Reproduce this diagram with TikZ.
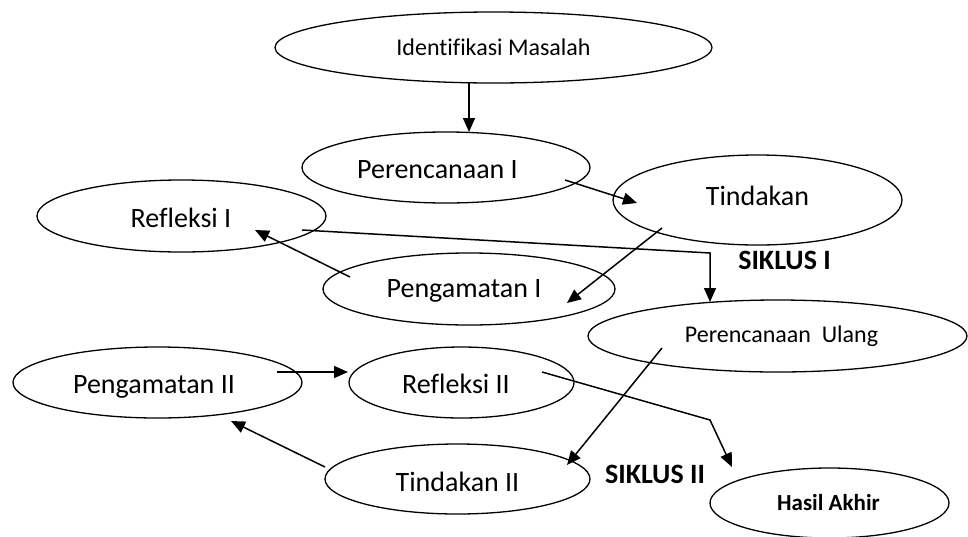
\documentclass[tikz,border=0pt]{standalone}
\usepackage{fontspec}
\setmainfont{Carlito}[Ligatures=NoCommon]
\usetikzlibrary{shapes.geometric,arrows.meta,calc}
\tikzset{
  oval/.style={draw, ellipse, line width=1.3pt, fill=white, inner sep=0pt},
  txt/.style={anchor=base, inner sep=0pt, font=\fontsize{28}{30}\selectfont},
  mid/.style={anchor=base, inner sep=0pt, font=\fontsize{24}{26}\selectfont},
  arr/.style={line width=1.5pt, -{Triangle[length=14pt,width=12pt]}},
  lbl/.style={anchor=base, inner sep=0pt, font=\bfseries\fontsize{28}{30}\selectfont},
}
\begin{document}
\begin{tikzpicture}[x=1pt,y=-1pt]
\useasboundingbox (0,0) rectangle (968,536);
% ellipses
\node[oval, minimum width=437pt, minimum height=71pt] (im) at (493.5,47.5) {};
\node[oval, minimum width=288pt, minimum height=71pt] (p1) at (446,167.5) {};
\node[oval, minimum width=289pt, minimum height=90pt] (t1) at (757.5,200) {};
\node[oval, minimum width=289pt, minimum height=72pt] (r1) at (181.5,216) {};
\node[oval, minimum width=292pt, minimum height=72pt] (g1) at (469,289) {};
\node[oval, minimum width=379pt, minimum height=72pt] (pu) at (777.5,336) {};
\node[oval, minimum width=289pt, minimum height=71pt] (g2) at (157.5,382.5) {};
\node[oval, minimum width=225pt, minimum height=71pt] (r2) at (461.5,382.5) {};
\node[oval, minimum width=265pt, minimum height=70pt] (t2) at (457.5,479) {};
\node[oval, minimum width=239pt, minimum height=70pt] (ha) at (829.5,503) {};
% texts
\node[mid] (imt) at (493.5,55) {Identifikasi Masalah};
\node[txt] (p1t) at (437.5,178) {Perencanaan I};
\node[txt] (t1t) at (757.5,205) {Tindakan};
\node[txt] (r1t) at (181,227) {Refleksi I};
\node[txt] (g1t) at (464,297) {Pengamatan I};
\node[mid] (put) at (781.5,342) {Perencanaan\ \ Ulang};
\node[txt] (g2t) at (154,393) {Pengamatan II};
\node[txt] (r2t) at (456,393) {Refleksi II};
\node[txt] (t2t) at (457.5,491) {Tindakan II};
\node[anchor=base, inner sep=0pt, font=\bfseries\fontsize{23}{26}\selectfont] (hat) at (828.5,510) {Hasil Akhir};
% labels
\node[lbl] (s1) at (784.5,269) {SIKLUS I};
\node[lbl] (s2) at (655,483) {SIKLUS II};
% connectors
\draw[arr] ($(im.center)+(-24.5,35.5)$) -- ($(p1.center)+(23,-35.5)$);
\draw[arr] ($(p1.center)+(119,12.5)$) -- ($(t1.center)+(-120.5,3)$);
\draw[arr] ($(t1.center)+(-95.5,28)$) -- ($(g1.center)+(98,14)$);
\draw[arr] ($(g1.center)+(-119,-12)$) -- ($(r1.center)+(73.5,14)$);
\coordinate (c1) at (710,253);
\draw[arr] ($(r1.center)+(120.5,14)$) -- (c1) -- ($(pu.center)+(-67.5,-34)$);
\draw[arr] ($(pu.center)+(-115.5,12)$) -- ($(t2.center)+(109.5,-14)$);
\coordinate (c2) at (710,420);
\draw[arr] ($(r2.center)+(80.5,-10.5)$) -- (c2) -- ($(ha.center)+(-97.5,-36)$);
\draw[arr] ($(g2.center)+(119.5,-10.5)$) -- ($(r2.center)+(-113.5,-10.5)$);
\draw[arr] ($(t2.center)+(-132.5,-12)$) -- ($(g2.center)+(73.5,38.5)$);
\end{tikzpicture}
\end{document}
